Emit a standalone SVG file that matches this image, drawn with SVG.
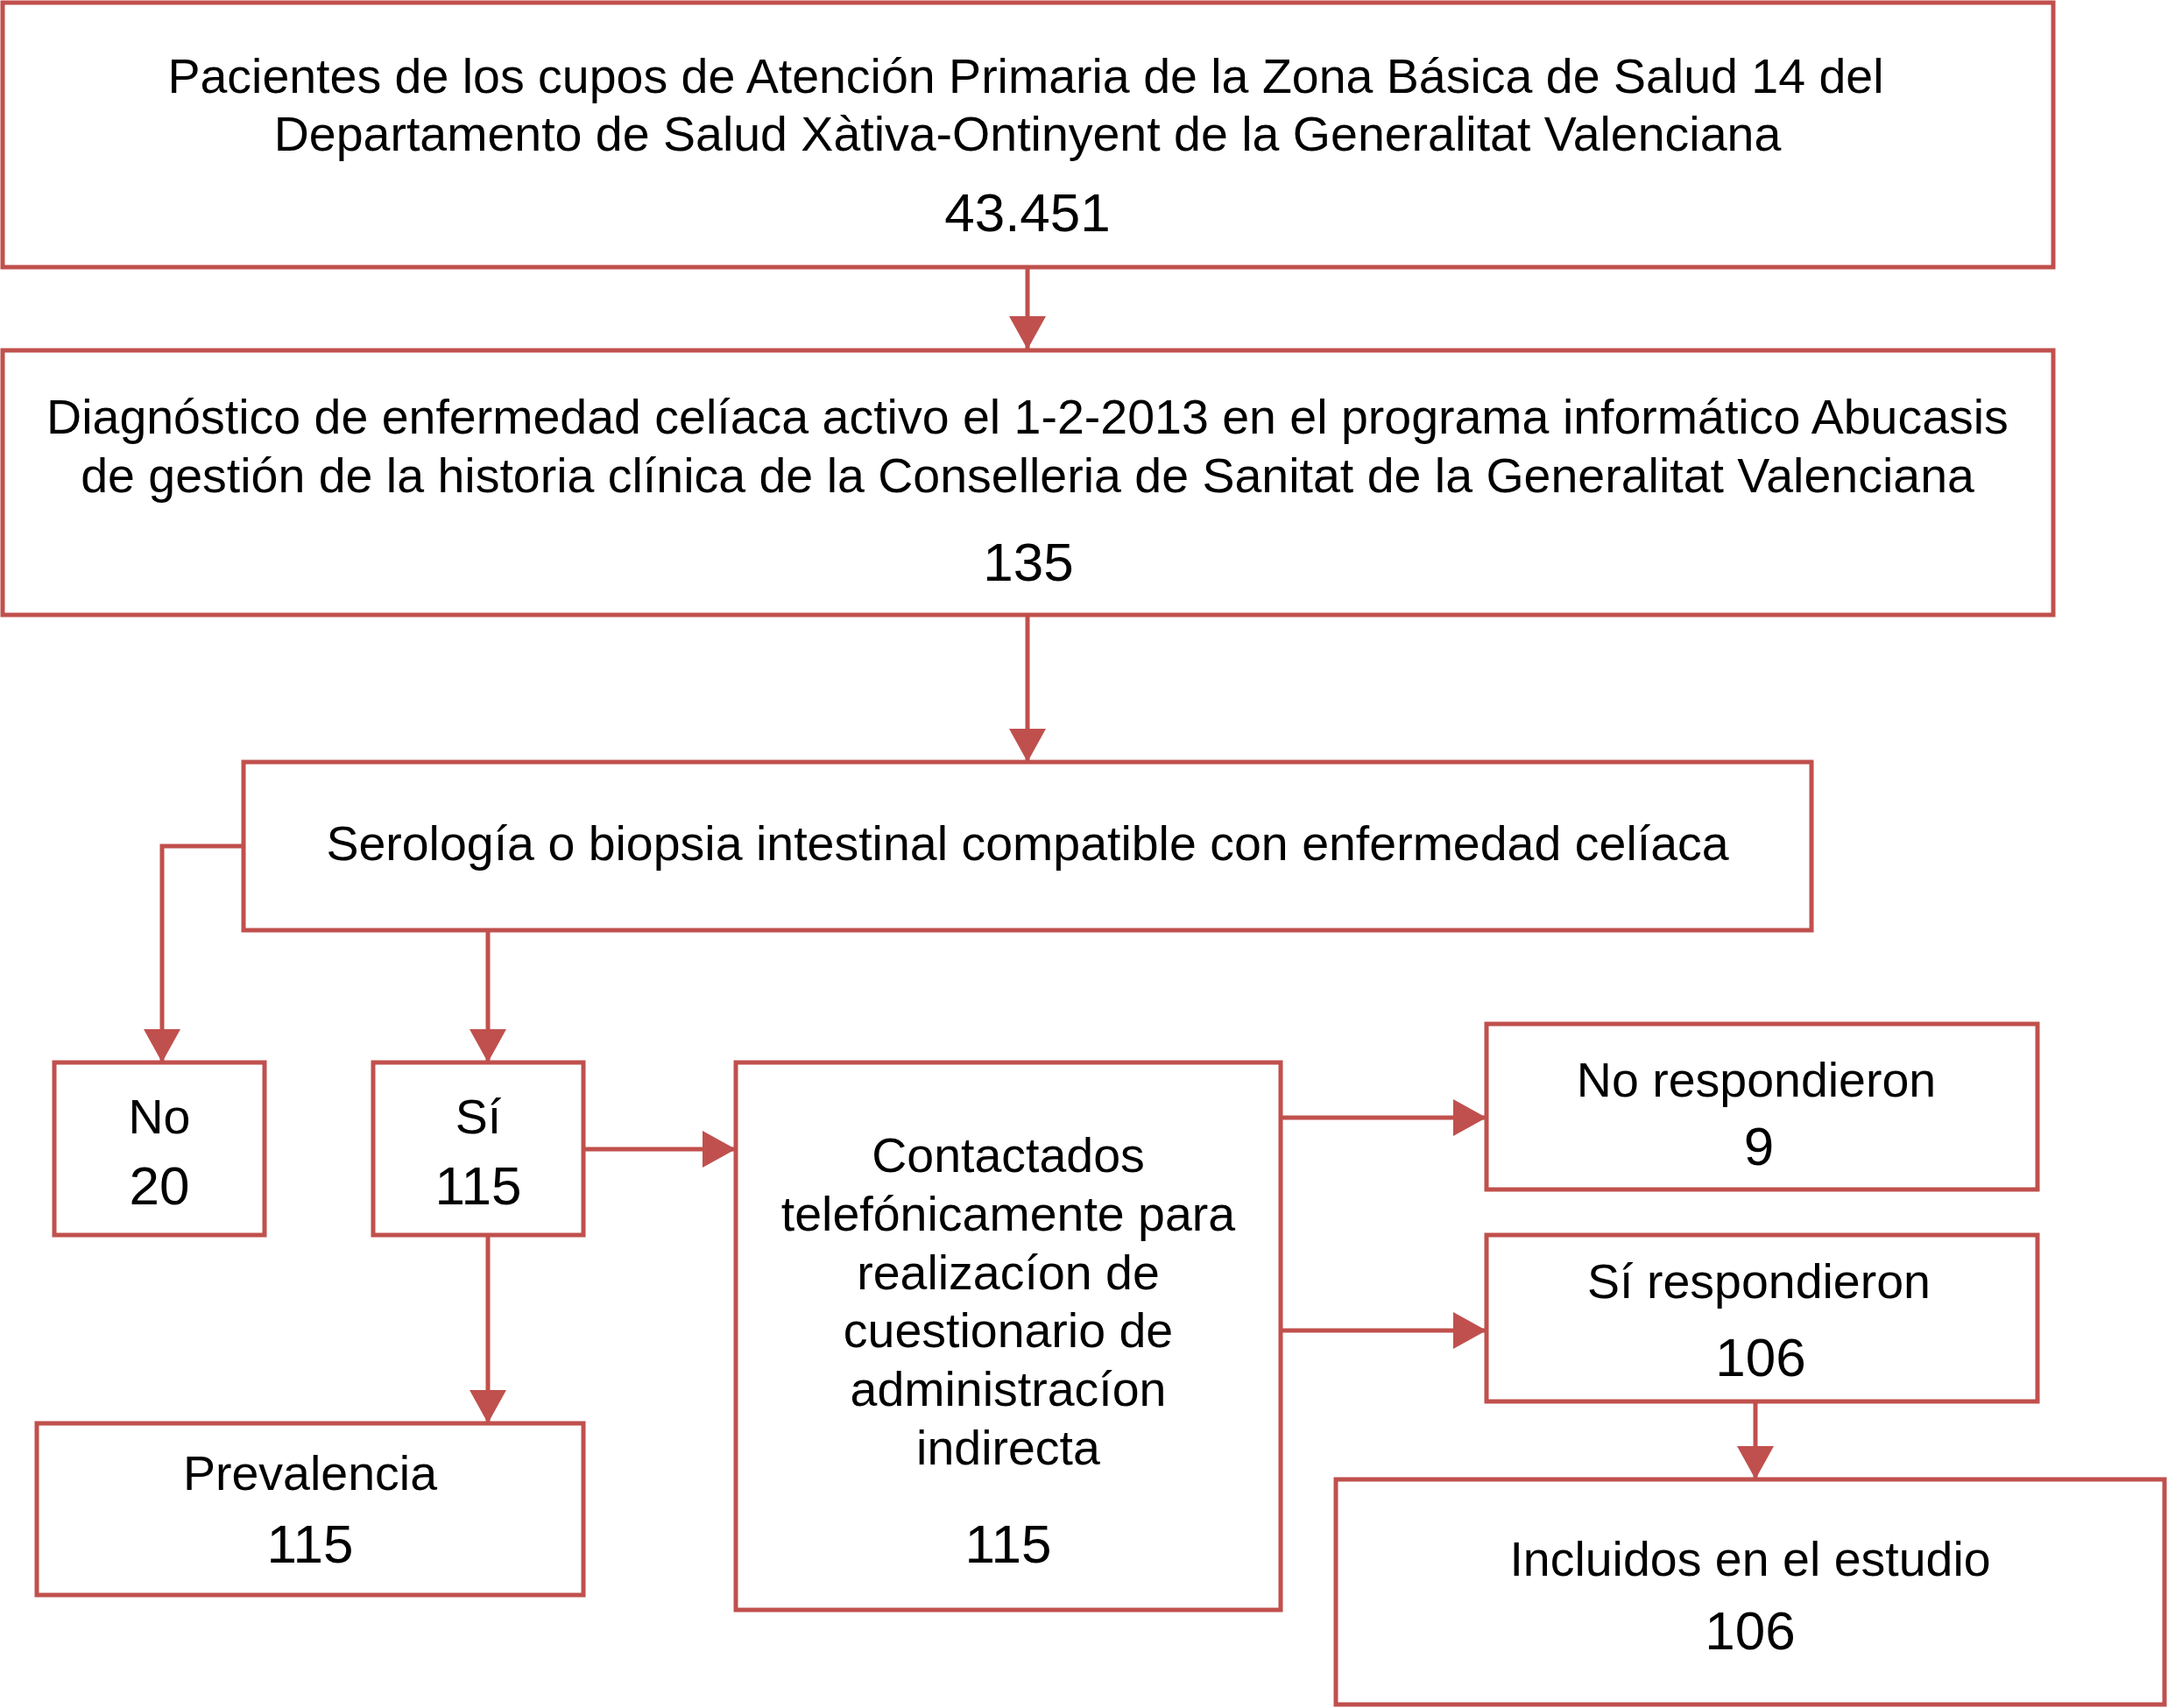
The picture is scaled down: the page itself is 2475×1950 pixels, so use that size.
<svg xmlns="http://www.w3.org/2000/svg" width="2475" height="1950" viewBox="0 0 2475 1950">
<defs>
<style>
.box{fill:#ffffff;stroke:#C0504D;stroke-width:5}
.conn{fill:none;stroke:#C0504D;stroke-width:5}
.t{font-family:"Liberation Sans",Arial,Helvetica,sans-serif;font-size:55.5px;fill:#000000;text-anchor:middle}
.n{font-family:"Liberation Sans",Arial,Helvetica,sans-serif;font-size:62px;fill:#000000;text-anchor:middle}
</style>
<marker id="ah" markerUnits="userSpaceOnUse" markerWidth="38" markerHeight="42" refX="38" refY="21" orient="auto">
<path d="M0,0 L38,21 L0,42 Z" fill="#C0504D"/>
</marker>
</defs>
<rect x="0" y="0" width="2475" height="1950" fill="#ffffff"/>
<g id="connectors">
<path class="conn" d="M1173,305 V399" marker-end="url(#ah)"/>
<path class="conn" d="M1173,702 V870" marker-end="url(#ah)"/>
<path class="conn" d="M278,966 H185 V1213" marker-end="url(#ah)"/>
<path class="conn" d="M557,1062 V1213" marker-end="url(#ah)"/>
<path class="conn" d="M666,1312 H840" marker-end="url(#ah)"/>
<path class="conn" d="M557,1410 V1625" marker-end="url(#ah)"/>
<path class="conn" d="M1462,1276 H1697" marker-end="url(#ah)"/>
<path class="conn" d="M1462,1519 H1697" marker-end="url(#ah)"/>
<path class="conn" d="M2004,1600 V1689" marker-end="url(#ah)"/>
</g>
<g id="n-pacientes">
<rect class="box" x="3" y="3" width="2341" height="302"/>
<text class="t" x="1171" y="106">Pacientes de los cupos de Atención Primaria de la Zona Básica de Salud 14 del</text>
<text class="t" x="1173" y="172">Departamento de Salud Xàtiva-Ontinyent de la Generalitat Valenciana</text>
<text class="n" x="1173" y="264">43.451</text>
</g>
<g id="n-diagnostico">
<rect class="box" x="3" y="400" width="2341" height="302"/>
<text class="t" x="1173" y="495">Diagnóstico de enfermedad celíaca activo el 1-2-2013 en el programa informático Abucasis</text>
<text class="t" x="1173" y="562">de gestión de la historia clínica de la Conselleria de Sanitat de la Generalitat Valenciana</text>
<text class="n" x="1174" y="663">135</text>
</g>
<g id="n-serologia">
<rect class="box" x="278" y="870" width="1790" height="192"/>
<text class="t" x="1173" y="982">Serología o biopsia intestinal compatible con enfermedad celíaca</text>
</g>
<g id="n-no">
<rect class="box" x="62" y="1213" width="240" height="197"/>
<text class="t" x="182" y="1294">No</text>
<text class="n" x="182" y="1375">20</text>
</g>
<g id="n-si">
<rect class="box" x="426" y="1213" width="240" height="197"/>
<text class="t" x="546" y="1294">Sí</text>
<text class="n" x="546" y="1375">115</text>
</g>
<g id="n-contactados">
<rect class="box" x="840" y="1213" width="622" height="625"/>
<text class="t" x="1151" y="1338">Contactados</text>
<text class="t" x="1151" y="1405">telefónicamente para</text>
<text class="t" x="1151" y="1472">realizacíon de</text>
<text class="t" x="1151" y="1538">cuestionario de</text>
<text class="t" x="1151" y="1605">administracíon</text>
<text class="t" x="1151" y="1672">indirecta</text>
<text class="n" x="1151" y="1784">115</text>
</g>
<g id="n-prevalencia">
<rect class="box" x="42" y="1625" width="624" height="196"/>
<text class="t" x="354" y="1701">Prevalencia</text>
<text class="n" x="354" y="1784">115</text>
</g>
<g id="n-norespondieron">
<rect class="box" x="1697" y="1169" width="629" height="189"/>
<text class="t" x="2005" y="1252">No respondieron</text>
<text class="n" x="2008" y="1330">9</text>
</g>
<g id="n-sirespondieron">
<rect class="box" x="1697" y="1410" width="629" height="190"/>
<text class="t" x="2008" y="1482">Sí respondieron</text>
<text class="n" x="2010" y="1571">106</text>
</g>
<g id="n-incluidos">
<rect class="box" x="1525" y="1689" width="946" height="257"/>
<text class="t" x="1998" y="1799">Incluidos en el estudio</text>
<text class="n" x="1998" y="1883">106</text>
</g>
</svg>
